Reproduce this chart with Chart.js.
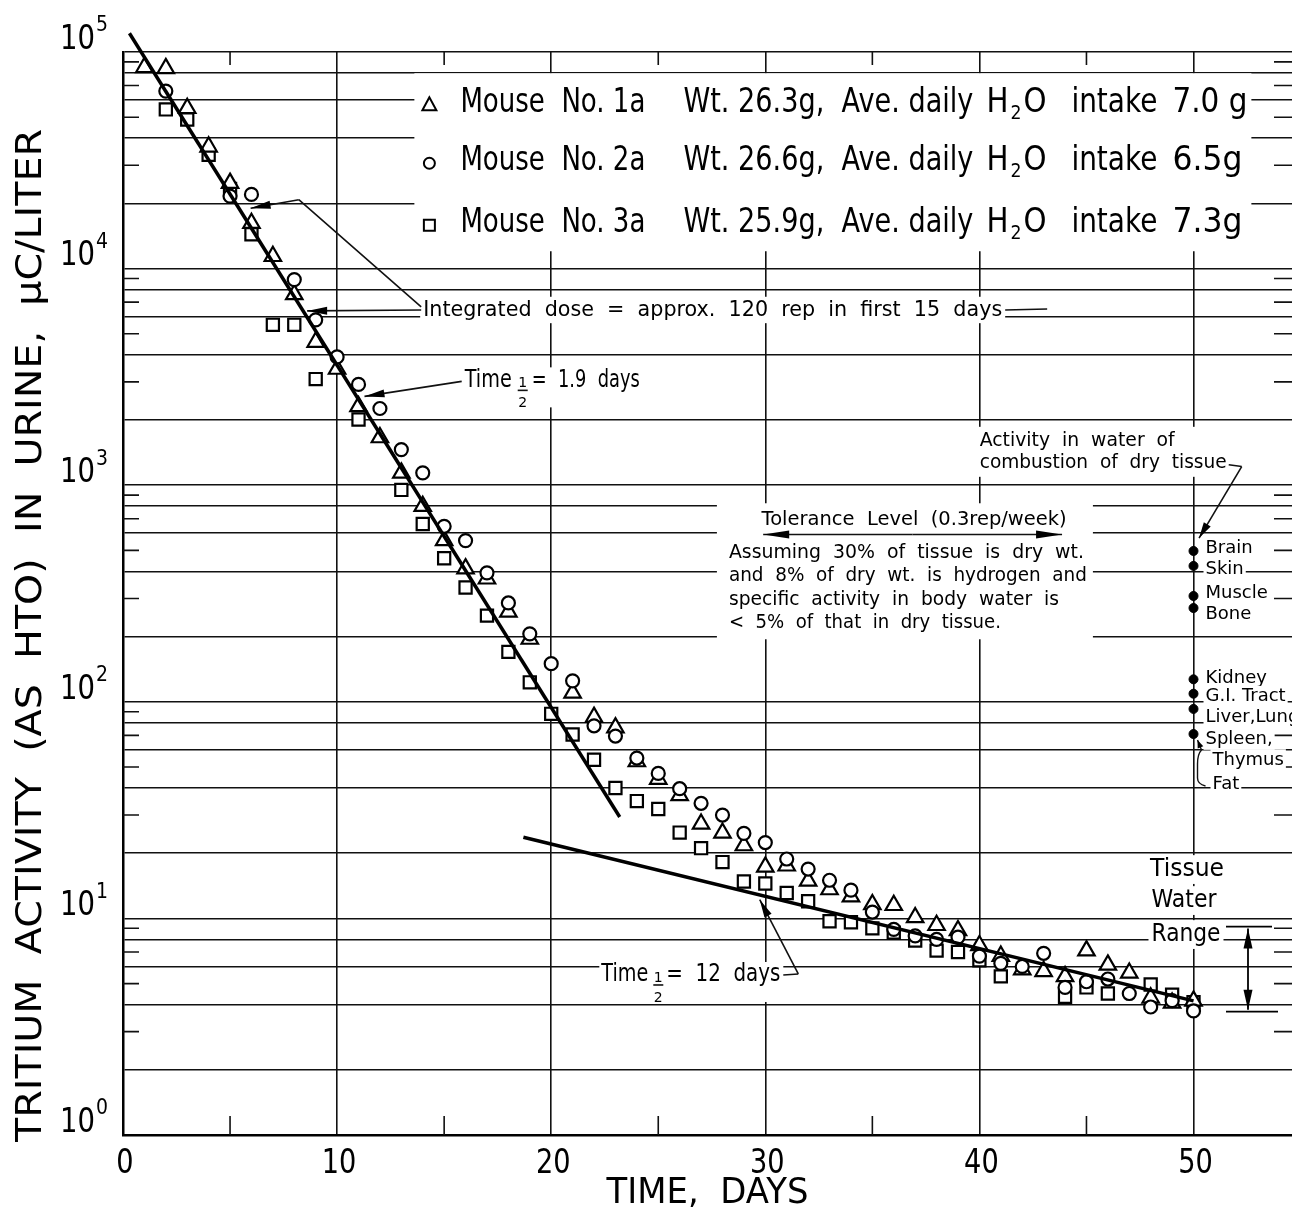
<!DOCTYPE html>
<html>
<head>
<meta charset="utf-8">
<script src="https://cdn.jsdelivr.net/npm/chart.js@4.4.1/dist/chart.umd.min.js"></script>
<style>
html, body { margin: 0; padding: 0; background: #fff; overflow: hidden; }
#wrap { width: 1292px; height: 1213px; }
#wrap canvas { display: block; }
</style>
</head>
<body>
<div id="wrap"><canvas id="chart"></canvas></div>
<script>
// time in days, one sample per day
var days = [0, 1, 2, 3, 4, 5, 6, 7, 8, 9, 10, 11, 12, 13, 14, 15, 16, 17, 18, 19, 20,
	21, 22, 23, 24, 25, 26, 27, 28, 29, 30, 31, 32, 33, 34, 35, 36, 37, 38, 39, 40,
	41, 42, 43, 44, 45, 46, 47, 48, 49, 50];

// tritium activity in urine, uC/liter (null = no visible point)
var mouse1 = [null, 85000, 84000, 55000, 36500, 24800, 16200, 11400, 7600, 4580, 3440,
	2310, 1660, 1140, 800, 556, 412, 370, 260, 195, null,
	110, 85, 76, 53, 44, 37, 27.3, 24.8, 21.7, 17.3,
	17.5, 14.9, 13.6, 12.6, 11.6, 11.5, 10.1, 9.3, 8.8, 7.5,
	6.7, 5.8, 5.7, 5.4, 7.1, 6.1, 5.6, 4.3, 4.07, 4.16];
var mouse2 = [150000, 127000, 66000, null, null, 21600, 22000, null, 8900, 5800, 3910,
	2920, 2260, 1460, 1140, 646, 555, 394, 286, 206, 150,
	125, 77.5, 69.5, 55, 46.7, 39.7, 34, 30, 24.7, 22.4,
	18.8, 16.9, 15.0, 13.5, 10.7, 8.9, 8.3, 8.0, 8.2, 6.7,
	6.2, 6.0, 6.9, 4.8, 5.1, 5.25, 4.5, 3.9, 4.17, 3.74];
var mouse3 = [120000, null, 54300, 48800, 33500, 23300, 14400, 5500, 5500, 3090, null,
	2010, null, 951, 662, 460, 337, 250, 170, 123, 88,
	70.6, 54, 40, 34.8, 32, 24.9, 21.1, 18.2, 14.8, 14.5,
	13.1, 12.0, 9.7, 9.6, 9.0, 8.6, 7.9, 7.1, 7.0, 6.4,
	5.4, null, null, 4.35, 4.8, 4.5, null, 4.95, 4.44, 4.1];

// fitted decay lines (T1/2 = 1.9 days and 12 days)
var fastDays = [0.3, 23.2];
var fastVals = [122000, 29.4];
var slowDays = [18.7, 50];
var slowVals = [23.7, 4.16];

// activity in water of combustion of dry tissue (day 50)
var tissueDay = 50;
var tissueNames = ['Brain', 'Skin', 'Muscle', 'Bone', 'Kidney', 'G.I. Tract', 'Liver,Lung', 'Spleen,'];
var tissueVals = [497, 424, 308, 271, 127, 109, 92.7, 71];
var tissueWaterDay = 52.56;
var tissueWaterRange = [3.71, 9.17];
var toleranceVal = 592;
var toleranceDays = [29.9, 43.86];

// legend text
var mouseNames = ['Mouse  No. 1a', 'Mouse  No. 2a', 'Mouse  No. 3a'];
var mouseWeights = ['Wt. 26.3g,  Ave. daily', 'Wt. 26.6g,  Ave. daily', 'Wt. 25.9g,  Ave. daily'];
var mouseIntake = ['7.0 g', '6.5g', '7.3g'];

// axes
var xTickVals = [0, 10, 20, 30, 40, 50];
var xMinorVals = [5, 15, 25, 35, 45];
var yDecades = [0, 1, 2, 3, 4, 5];
var yLineMult = [1, 2, 4, 6, 8];
var yTickMult = [3, 5, 7, 9];

var FONT = '"DejaVu Sans", "Liberation Sans", sans-serif';

function pts(xv, yv) {
	var out = [];
	for (var i = 0; i < xv.length; i++) {
		if (yv[i] !== null) out.push({ x: xv[i], y: yv[i] });
	}
	return out;
}

function txt(ctx, str, x, y, size, o) {
	o = o || {};
	ctx.font = size + 'px ' + FONT;
	var w = ctx.measureText(str).width;
	var sx = o.w ? o.w / w : (o.sx || 1);
	var tw = w * sx;
	var x0 = o.align === 'center' ? x - tw / 2 : (o.align === 'right' ? x - tw : x);
	if (o.box) {
		var p = o.pad || 3;
		ctx.fillStyle = '#fff';
		ctx.fillRect(x0 - p, y - size * 0.6, tw + 2 * p, size * 1.2);
	}
	ctx.fillStyle = '#000';
	ctx.save();
	ctx.translate(x0, y);
	ctx.scale(sx, 1);
	ctx.textAlign = 'left';
	ctx.textBaseline = 'middle';
	ctx.fillText(str, 0, 0);
	ctx.restore();
	return x0 + tw;
}

function arrow(ctx, x1, y1, x2, y2, len, half) {
	ctx.fillStyle = '#000';
	ctx.beginPath();
	ctx.moveTo(x1, y1);
	ctx.lineTo(x2, y2);
	ctx.stroke();
	var a = Math.atan2(y2 - y1, x2 - x1);
	ctx.beginPath();
	ctx.moveTo(x2, y2);
	ctx.lineTo(x2 - len * Math.cos(a) + half * Math.sin(a), y2 - len * Math.sin(a) - half * Math.cos(a));
	ctx.lineTo(x2 - len * Math.cos(a) - half * Math.sin(a), y2 - len * Math.sin(a) + half * Math.cos(a));
	ctx.closePath();
	ctx.fill();
}

function half(ctx, x, y) {
	txt(ctx, '1', x, y + 3, 14, { align: 'center' });
	ctx.beginPath();
	ctx.moveTo(x - 5, y + 10);
	ctx.lineTo(x + 5, y + 10);
	ctx.stroke();
	txt(ctx, '2', x, y + 23, 14, { align: 'center' });
}

function sym(ctx, type, x, y) {
	ctx.beginPath();
	if (type === 0) {
		ctx.moveTo(x, y - 8);
		ctx.lineTo(x - 7, y + 5);
		ctx.lineTo(x + 7, y + 5);
		ctx.closePath();
	} else if (type === 1) {
		ctx.arc(x, y, 5.5, 0, Math.PI * 2);
	} else {
		ctx.rect(x - 5.5, y - 5.5, 11, 11);
	}
	ctx.stroke();
}

var annot = {
	id: 'annot',
	beforeDatasetsDraw: function (chart) {
		var ctx = chart.ctx, xs = chart.scales.x, ys = chart.scales.y, a = chart.chartArea;
		var X = function (d) { return xs.getPixelForValue(d); };
		var Y = function (v) { return ys.getPixelForValue(v); };
		var i, n, p;
		ctx.save();
		ctx.strokeStyle = '#111';
		ctx.fillStyle = '#000';
		ctx.lineWidth = 1.6;

		// short ticks for odd multiples
		for (n = 0; n < 5; n++) {
			for (i = 0; i < yTickMult.length; i++) {
				p = Y(yTickMult[i] * Math.pow(10, n));
				ctx.beginPath();
				ctx.moveTo(a.left, p); ctx.lineTo(a.left + 16, p);
				ctx.moveTo(a.right - 18, p); ctx.lineTo(a.right, p);
				ctx.stroke();
			}
		}
		for (i = 0; i < xMinorVals.length; i++) {
			p = X(xMinorVals[i]);
			ctx.beginPath();
			ctx.moveTo(p, a.bottom); ctx.lineTo(p, a.bottom - 19);
			ctx.moveTo(p, a.top); ctx.lineTo(p, a.top + 13);
			ctx.stroke();
		}

		// legend block
		var lx = X(14.31), ly = Y(58000);
		ctx.fillStyle = '#fff';
		ctx.fillRect(lx - 15, ly - 30, 837, 178);
		var rowDy = [0, 58, 120];
		for (i = 0; i < 3; i++) {
			var ry = ly + rowDy[i];
			ctx.lineWidth = 2;
			ctx.strokeStyle = '#000';
			sym(ctx, i, lx, ry + 2);
			txt(ctx, mouseNames[i], lx + 31, ry, 33, { w: 185 });
			txt(ctx, mouseWeights[i], lx + 254, ry, 33, { w: 290 });
			txt(ctx, 'H', lx + 557, ry, 33, { w: 22 });
			txt(ctx, '2', lx + 581, ry + 11, 20, { w: 11 });
			txt(ctx, 'O', lx + 594, ry, 33, { w: 23 });
			txt(ctx, 'intake', lx + 642, ry, 33, { w: 86 });
			txt(ctx, mouseIntake[i], lx + 743, ry, 33, { w: i === 0 ? 75 : 70 });
		}

		ctx.lineWidth = 1.6;
		ctx.strokeStyle = '#111';
		ctx.fillStyle = '#000';

		// integrated dose
		var ix = X(14.02), iy = Y(6442);
		var iend = txt(ctx, 'Integrated  dose  =  approx.  120  rep  in  first  15  days', ix, iy, 22, { w: 579, box: true });
		ctx.beginPath();
		ctx.moveTo(iend + 3, iy); ctx.lineTo(iend + 45, iy - 1);
		ctx.moveTo(ix - 2, iy - 3); ctx.lineTo(X(8.21), Y(20800));
		ctx.stroke();
		arrow(ctx, X(8.21), Y(20800), X(5.96), Y(19000), 20, 4);
		arrow(ctx, ix - 2, iy, X(8.60), Y(6380), 20, 4);

		// time 1/2 = 1.9 days
		var tx = X(15.96), ty = Y(3048);
		ctx.fillStyle = '#fff';
		ctx.fillRect(tx - 2, ty - 13, 182, 40);
		txt(ctx, 'Time', tx, ty, 24, { w: 47 });
		half(ctx, tx + 58, ty);
		txt(ctx, '=  1.9  days', tx + 67, ty, 24, { w: 108 });
		arrow(ctx, tx - 3, ty + 1, X(11.28), Y(2570), 20, 4);

		// time 1/2 = 12 days
		var ux = X(22.34), uy = Y(5.48);
		ctx.fillStyle = '#fff';
		ctx.fillRect(ux - 2, uy - 13, 184, 40);
		txt(ctx, 'Time', ux, uy, 24, { w: 47 });
		half(ctx, ux + 57, uy);
		var uend = txt(ctx, '=  12  days', ux + 65, uy, 24, { w: 114 });
		ctx.beginPath();
		ctx.moveTo(uend + 3, uy); ctx.lineTo(X(31.54), uy - 1);
		ctx.stroke();
		arrow(ctx, X(31.54), uy - 1, X(29.74), Y(12.2), 18, 4);

		// tolerance level
		var px0 = X(28.30), py0 = Y(485);
		ctx.fillStyle = '#fff';
		ctx.fillRect(px0 - 12, py0 - 50, 376, 136);
		txt(ctx, 'Tolerance  Level  (0.3rep/week)', X(36.95), Y(690), 19, { w: 305, align: 'center' });
		var tl = X(toleranceDays[0]), tr = X(toleranceDays[1]), tyy = Y(toleranceVal);
		ctx.lineWidth = 1.6;
		arrow(ctx, (tl + tr) / 2, tyy, tl, tyy, 26, 4);
		arrow(ctx, (tl + tr) / 2, tyy, tr, tyy, 26, 4);
		var para = ['Assuming  30%  of  tissue  is  dry  wt.', 'and  8%  of  dry  wt.  is  hydrogen  and',
			'specific  activity  in  body  water  is', '<  5%  of  that  in  dry  tissue.'];
		var paraW = [355, 358, 330, 272];
		var paraDy = [0, 23, 47, 70];
		for (i = 0; i < para.length; i++) {
			txt(ctx, para[i], px0, py0 + paraDy[i], 20, { w: paraW[i] });
		}

		// activity in water of combustion
		var ax = X(39.92), ay = Y(1603);
		ctx.fillStyle = '#fff';
		ctx.fillRect(ax - 1, ay - 14, 252, 50);
		txt(ctx, 'Activity  in  water  of', ax + 2, ay, 19, { w: 195 });
		var aend = txt(ctx, 'combustion  of  dry  tissue', ax + 2, ay + 22, 19, { w: 247 });
		ctx.beginPath();
		ctx.moveTo(aend + 2, ay + 24); ctx.lineTo(X(52.25), Y(1219));
		ctx.stroke();
		arrow(ctx, X(52.25), Y(1219), X(50.26), Y(570), 16, 4);

		// tissue labels
		var labDy = [-3, 3, -3, 6, -1, 3, 8, 5];
		var tdx = X(tissueDay);
		for (i = 0; i < tissueNames.length; i++) {
			txt(ctx, tissueNames[i], tdx + 12, Y(tissueVals[i]) + labDy[i], 18, { box: true, pad: 2 });
		}
		var sy = Y(tissueVals[7]);
		txt(ctx, 'Thymus', tdx + 19, sy + 26, 18, { box: true, pad: 2 });
		txt(ctx, 'Fat', tdx + 19, sy + 50, 18, { box: true, pad: 2 });
		ctx.lineWidth = 1.4;
		ctx.beginPath();
		ctx.moveTo(tdx + 8, sy + 16);
		ctx.quadraticCurveTo(tdx + 4, sy + 20, tdx + 4, sy + 30);
		ctx.lineTo(tdx + 4, sy + 44);
		ctx.quadraticCurveTo(tdx + 4, sy + 50, tdx + 12, sy + 52);
		ctx.stroke();
		arrow(ctx, tdx + 8, sy + 16, tdx + 4, sy + 6, 8, 3);

		// tissue water range
		var wx = Math.round(X(tissueWaterDay)), wt = Y(tissueWaterRange[1]), wb = Y(tissueWaterRange[0]);
		txt(ctx, 'Tissue', wx - 61, wt - 57, 24, { w: 74, align: 'center', box: true });
		txt(ctx, 'Water', wx - 64, wt - 26, 24, { w: 65, align: 'center', box: true });
		txt(ctx, 'Range', wx - 62, wt + 8, 24, { w: 69, align: 'center', box: true });
		ctx.lineWidth = 1.8;
		ctx.strokeStyle = '#000';
		ctx.beginPath();
		ctx.moveTo(wx - 22, wt); ctx.lineTo(wx + 24, wt);
		ctx.moveTo(wx - 22, wb); ctx.lineTo(wx + 30, wb);
		ctx.stroke();
		arrow(ctx, wx, (wt + wb) / 2, wx, wt + 2, 20, 4.5);
		arrow(ctx, wx, (wt + wb) / 2, wx, wb - 2, 20, 4.5);

		ctx.restore();
	},
	afterDraw: function (chart) {
		var ctx = chart.ctx, xs = chart.scales.x, ys = chart.scales.y, a = chart.chartArea;
		var i, p;
		ctx.save();
		for (i = 0; i < xTickVals.length; i++) {
			p = xs.getPixelForValue(xTickVals[i]);
			txt(ctx, String(xTickVals[i]), p + 2, a.bottom + 29, 34, { sx: 0.8, align: 'center' });
		}
		for (i = 0; i < yDecades.length; i++) {
			p = ys.getPixelForValue(Math.pow(10, yDecades[i]));
			txt(ctx, '10', a.left - 28, p - 12, 34, { w: 35, align: 'right' });
			txt(ctx, String(yDecades[i]), a.left - 27, p - 26, 21, { w: 12 });
		}
		txt(ctx, 'TIME,  DAYS', (a.left + a.right) / 2, a.bottom + 59, 36, { w: 202, align: 'center' });
		ctx.translate(a.left - 91, (a.top + a.bottom) / 2 + 42);
		ctx.rotate(-Math.PI / 2);
		txt(ctx, 'TRITIUM  ACTIVITY  (AS  HTO)  IN  URINE,  \u03bcC/LITER', 0, 0, 36, { w: 1013, align: 'center' });
		ctx.restore();
	}
};

var ygrid = [];
for (var n = 0; n < yDecades.length; n++) {
	for (var k = 1; k <= 9; k++) {
		if (yDecades[n] === 5 && k > 1) break;
		ygrid.push(k * Math.pow(10, yDecades[n]));
	}
}

function mult(v) {
	var e = Math.floor(Math.round(Math.log10(v) * 1e6) / 1e6);
	return Math.round(v / Math.pow(10, e));
}

var ctx = document.getElementById('chart');
var myChart = new Chart(ctx, {
	type: 'scatter',
	data: {
		datasets: [{
			data: pts(fastDays, fastVals),
			showLine: true, borderColor: '#000', borderWidth: 3.5, pointRadius: 0, clip: false
		}, {
			data: pts(slowDays, slowVals),
			showLine: true, borderColor: '#000', borderWidth: 3.5, pointRadius: 0, clip: false
		}, {
			data: tissueVals.map(function (v) { return { x: tissueDay, y: v }; }),
			pointStyle: 'circle', pointRadius: 4.5, backgroundColor: '#000', borderColor: '#000', borderWidth: 1
		}, {
			label: 'Mouse No. 2a',
			data: pts(days, mouse2),
			pointStyle: 'circle', pointRadius: 6.5, backgroundColor: '#fff', borderColor: '#000', borderWidth: 2.2, clip: false
		}, {
			label: 'Mouse No. 1a',
			data: pts(days, mouse1),
			pointStyle: 'triangle', pointRadius: 9.5, backgroundColor: '#fff', borderColor: '#000', borderWidth: 2.2, clip: false
		}, {
			label: 'Mouse No. 3a',
			data: pts(days, mouse3),
			pointStyle: 'rect', pointRadius: 8.6, backgroundColor: '#fff', borderColor: '#000', borderWidth: 2.2, clip: false
		}]
	},
	options: {
		responsive: true,
		maintainAspectRatio: false,
		animation: false,
		devicePixelRatio: 1,
		layout: { autoPadding: false, padding: { top: 52, right: 0, bottom: 0, left: 0 } },
		plugins: { legend: { display: false }, tooltip: { enabled: false } },
		scales: {
			x: {
				type: 'linear', min: 0, max: 54.6,
				afterBuildTicks: function (s) {
					s.ticks = [0, 5, 10, 15, 20, 25, 30, 35, 40, 45, 50].map(function (v) { return { value: v }; });
				},
				afterFit: function (s) { s.height = 78; },
				ticks: { display: false },
				grid: {
					drawTicks: false, lineWidth: 1.6,
					color: function (c) {
						return (c.tick && c.tick.value > 0 && c.tick.value % 10 === 0) ? '#111' : 'rgba(0,0,0,0)';
					}
				},
				border: { display: true, color: '#000', width: 2.5 }
			},
			y: {
				type: 'logarithmic', min: 1, max: 100000,
				afterBuildTicks: function (s) {
					s.ticks = ygrid.map(function (v) { return { value: v }; });
				},
				afterFit: function (s) { s.width = 123; },
				ticks: { display: false },
				grid: {
					drawTicks: false, lineWidth: 1.6,
					color: function (c) {
						return (c.tick && yLineMult.indexOf(mult(c.tick.value)) >= 0) ? '#111' : 'rgba(0,0,0,0)';
					}
				},
				border: { display: true, color: '#000', width: 2.5 }
			}
		}
	},
	plugins: [annot]
});
</script>
</body>
</html>
